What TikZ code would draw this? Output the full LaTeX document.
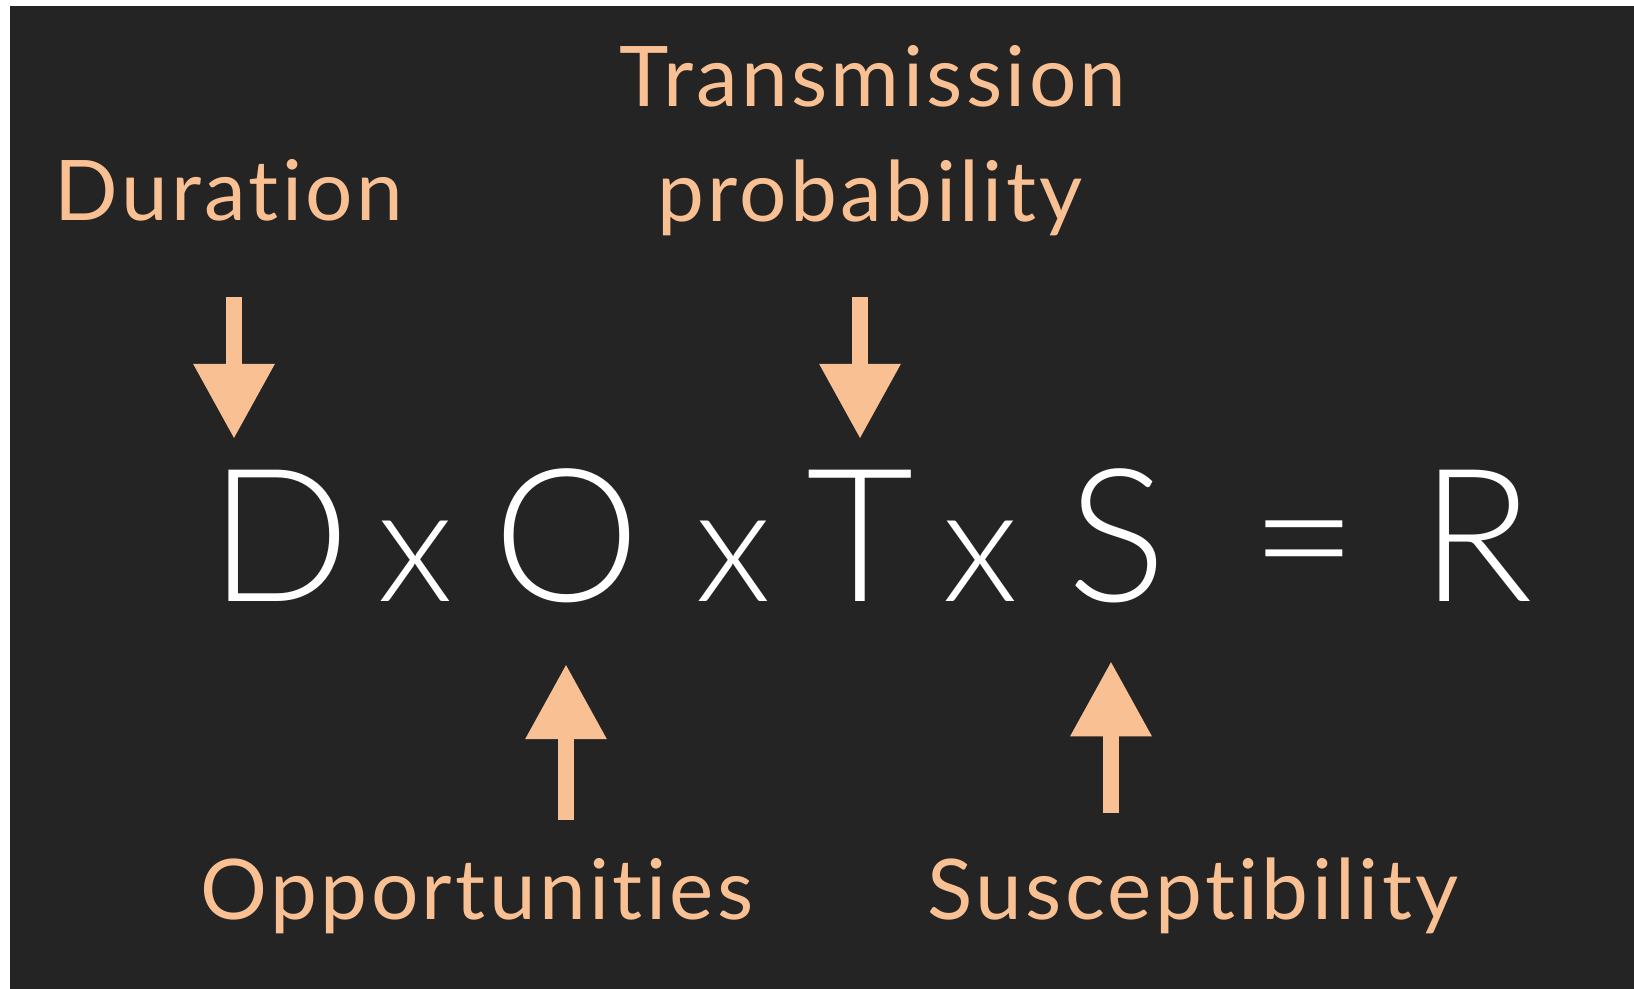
\documentclass[tikz,border=0pt]{standalone}
\usepackage{fontspec}
\setmainfont{Lato}[RawFeature=-liga, LetterSpace=4]
\newfontfamily\termfont{Lato}[UprightFont=* Light, RawFeature=-liga]
\usetikzlibrary{positioning, arrows.meta, calc}
\definecolor{slate}{HTML}{242424}
\definecolor{peach}{HTML}{F9C193}

\tikzset{
  term/.style={text=white, inner sep=0pt, anchor=base, font=\termfont\fontsize{52.8}{60}\selectfont},
  times/.style={term, font=\termfont\fontsize{46}{52}\selectfont},
  factor/.style={text=peach, inner sep=0pt, anchor=base, font=\fontsize{23.8}{28}\selectfont},
  blockarrow/.style={-{Triangle[length=0.75cm, width=0.77cm]}, line width=0.16cm, peach}
}

\begin{document}
\begin{tikzpicture}[x=0.01cm, y=-0.01cm]
  \fill[white] (0,0) rectangle (1634,989);
  \fill[slate] (10,6) rectangle (1634,989);
  \useasboundingbox (0,0) rectangle (1634,989);

  % the product
  \node[term] (D) at (280,602) {D};
  \node[times] (x1) at (415,602) {x};
  \node[term] (O) at (567,602) {O};
  \node[times] (x2) at (733,602) {x};
  \node[term] (T) at (860,602) {T};
  \node[times] (x3) at (980,602) {x};
  \node[term] (S) at (1117,602) {S};
  \node[term] (eq) at (1304,602) {=};
  \node[term] (R) at (1477,602) {R};

  % the factors
  \node[factor] (dur) at (229,221) {Duration};
  \node[factor] (tran) at (873,107) {Transmission};
  \node[factor] (prob) at (870,222) {probability};
  \node[factor] (opp) at (477,919) {Opportunities};
  \node[factor] (sus) at (1193,919) {Susceptibility};

  \coordinate (durfoot) at (234,297);
  \coordinate (probfoot) at (860,297);
  \coordinate (opphead) at (566,820);
  \coordinate (sushead) at (1111,813);

  \draw[blockarrow, shorten >=0.31cm] (durfoot) -- (durfoot |- D.north);
  \draw[blockarrow, shorten >=0.31cm] (probfoot) -- (probfoot |- T.north);
  \draw[blockarrow, shorten >=0.6cm] (opphead) -- (opphead |- O.south);
  \draw[blockarrow, shorten >=0.57cm] (sushead) -- (sushead |- S.south);
\end{tikzpicture}
\end{document}
